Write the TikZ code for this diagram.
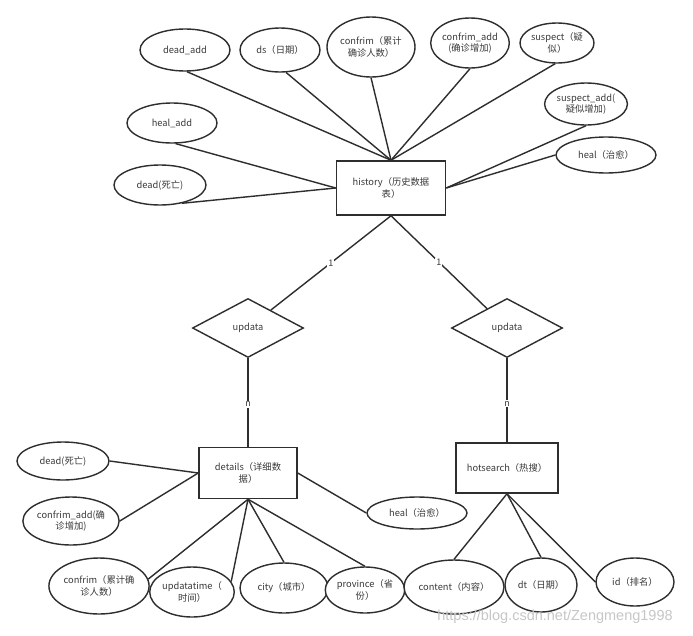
\documentclass[tikz,border=0pt]{standalone}
\usepackage{fontspec}
\setmainfont{Noto Sans CJK SC}
\newfontfamily\wmfont{Liberation Sans}
\usetikzlibrary{shapes.geometric}
\definecolor{ln}{HTML}{2E2E2E}
\definecolor{tx}{HTML}{3A3A3A}
\tikzset{
  attr/.style={ellipse, draw=ln, line width=1.4pt, fill=white, inner sep=0pt, align=center, text=tx, font=\fontsize{9.3}{11.5}\selectfont},
  ent/.style={rectangle, draw=ln, line width=1.5pt, fill=white, inner sep=0pt, align=center, text=tx, font=\fontsize{9.3}{11.5}\selectfont},
  rel/.style={diamond, draw=ln, line width=1.4pt, fill=white, inner sep=0pt, aspect=1.88, text=tx, font=\fontsize{9.3}{11.5}\selectfont},
  conn/.style={draw=ln, line width=1.4pt},
  card/.style={fill=white, inner sep=1pt, text=tx, font=\fontsize{9}{10}\selectfont}
}
\begin{document}
\begin{tikzpicture}[x=1pt,y=-1pt]
\useasboundingbox[fill=white] (0,0) rectangle (693,635);
% history entity
\node[ent, minimum width=109pt, minimum height=54pt] (history) at (391,188) {history（历史数据\\表）};
\node[attr, minimum width=90pt, minimum height=42pt] (deadadd) at (185,50) {dead\_add};
\node[attr, minimum width=80pt, minimum height=44pt] (ds) at (280,50) {ds（日期）};
\node[attr, minimum width=88pt, minimum height=60pt] (confrimT) at (371,47) {confrim（累计\\确诊人数）};
\node[attr, minimum width=76pt, minimum height=50pt] (confrimaddT) at (470,43) {confrim\_add\\(确诊增加)};
\node[attr, minimum width=74pt, minimum height=40pt] (suspect) at (557,43) {suspect（疑\\似）};
\node[attr, minimum width=78pt, minimum height=42pt] (suspectadd) at (586,104) {suspect\_add(\\疑似增加)};
\node[attr, minimum width=100pt, minimum height=36pt] (healT) at (606,155) {heal（治愈）};
\node[attr, minimum width=90pt, minimum height=40pt] (healadd) at (172,123) {heal\_add};
\node[attr, minimum width=92pt, minimum height=40pt] (deadT) at (160,185) {dead(死亡)};

\draw[conn] (deadadd.-85) -- (history.north);
\draw[conn] (ds.-75) -- (history.north);
\draw[conn] (confrimT.south) -- (history.north);
\draw[conn] (confrimaddT.south) -- (history.north);
\draw[conn] (suspect.-95) -- (history.north);
\draw[conn] (suspectadd.south) -- (history.east);
\draw[conn] (healT.west) -- (history.east);
\draw[conn] (healadd.-80) -- (history.west);
\draw[conn] (deadT.-40) -- (history.west);

% relationships
\node[rel, minimum width=111pt, minimum height=59pt] (upL) at (248,328) {updata};
\node[rel, minimum width=111pt, minimum height=59pt] (upR) at (507,328) {updata};
\draw[conn] (history.south) -- node[card, pos=0.5] {1} (upL);
\draw[conn] (history.south) -- node[card, pos=0.5] {1} (upR);

% details entity
\node[ent, minimum width=98pt, minimum height=51pt] (details) at (248,473) {details（详细数\\据）};
\node[ent, minimum width=102pt, minimum height=50pt] (hot) at (507,468) {hotsearch（热搜）};
\draw[conn] (upL.south) -- node[card, pos=0.52] {n} (details.north);
\draw[conn] (upR.south) -- node[card, pos=0.54] {n} (hot.north);

\node[attr, minimum width=92pt, minimum height=38pt] (deadB) at (63,461) {dead(死亡)};
\node[attr, minimum width=92pt, minimum height=48pt] (confrimaddB) at (71,521) {confrim\_add(确\\诊增加)};
\node[attr, minimum width=94pt, minimum height=56pt] (confrimB) at (99,586) {confrim（累计确\\诊人数）};
\node[attr, minimum width=82pt, minimum height=50pt] (updatatime) at (192,592) {updatatime（\\时间）};
\node[attr, minimum width=88pt, minimum height=50pt] (city) at (284,588) {city（城市）};
\node[attr, minimum width=76pt, minimum height=46pt] (province) at (365,590) {province（省\\份）};
\node[attr, minimum width=100pt, minimum height=32pt] (healB) at (417,513) {heal（治愈）};

\draw[conn] (deadB.east) -- (details.west);
\draw[conn] (confrimaddB.east) -- (details.west);
\draw[conn] (confrimB.8) -- (details.south);
\draw[conn] (updatatime.15) -- (details.south);
\draw[conn] (city.north) -- (details.south);
\draw[conn] (province.north) -- (details.south);
\draw[conn] (healB.west) -- (details.east);

\node[attr, minimum width=98pt, minimum height=54pt] (content) at (454,587) {content（内容）};
\node[attr, minimum width=72pt, minimum height=54pt] (dt) at (541,585) {dt（日期）};
\node[attr, minimum width=78pt, minimum height=48pt] (id) at (635,582) {id（排名）};
\draw[conn] (content.north) -- (hot.south);
\draw[conn] (dt.north) -- (hot.south);
\draw[conn] (id.west) -- (hot.south);

% watermark
\node[text=black!22, font=\wmfont\fontsize{14.5}{15}\selectfont, inner sep=0pt] (wm) at (555,617) {https://blog.csdn.net/Zengmeng1998};
\end{tikzpicture}
\end{document}
